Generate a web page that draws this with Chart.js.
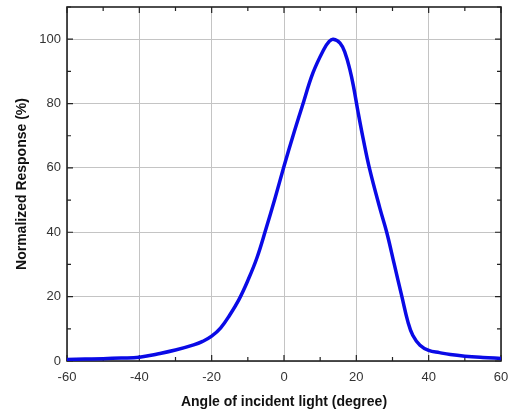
<!DOCTYPE html>
<html lang="en">
<head>
    <meta charset="UTF-8">
    <title>Normalized Response</title>
    <script src="https://cdn.jsdelivr.net/npm/chart.js"></script>
    <style>
        html, body { margin: 0; padding: 0; background: #fff; }
        #wrap { width: 521px; height: 412px; }
    </style>
</head>
<body>
    <div id="wrap">
        <canvas id="grafico"></canvas>
    </div>

<script>
    // values
    var angulos = [-60, -55, -50, -45, -40, -35, -30, -25, -22.5, -20, -17.5, -15, -12.5, -10, -7.5, -5, -2.5,
        0, 2.5, 5, 8, 11, 12.5, 13.6, 15.5, 16.9, 18.2, 19.2, 20.5, 21.9, 23.6, 26.5, 28.4, 30.5, 32.6,
        34.3, 35.6, 37.6, 40, 43, 46, 50, 55, 60];
    var resposta = [0.5, 0.6, 0.7, 0.9, 1.2, 2.2, 3.4, 5.0, 6.1, 7.7, 10.3, 14.3, 19, 25, 32, 41, 50.5,
        60.5, 70, 79, 89.5, 96.8, 99.3, 100, 98.8, 95.7, 90.6, 85.4, 77.2, 69, 60, 47.5, 40, 30, 20,
        12, 8, 4.9, 3.3, 2.6, 2.0, 1.5, 1.1, 0.8];

    var xMin = -60, xMax = 60, xStep = 10;
    var yMin = 0, yMax = 110, yStep = 10;
    var majorEvery = 20;

    var pontos = [];
    for (var i = 0; i < angulos.length; i++) {
        pontos.push({ x: angulos[i], y: resposta[i] });
    }

    function corGrade(ctx) {
        return ctx.tick.value % majorEvery === 0 ? '#c4c4c4' : 'rgba(0,0,0,0)';
    }

    // frame + inward ticks on all four sides
    var moldura = {
        id: 'moldura',
        beforeDatasetsDraw: function (chart) {
            var c = chart.ctx, a = chart.chartArea;
            var sx = chart.scales.x, sy = chart.scales.y;
            c.save();
            c.strokeStyle = '#222';
            c.lineWidth = 1.2;
            c.beginPath();
            for (var v = xMin; v <= xMax; v += xStep) {
                var px = sx.getPixelForValue(v);
                var len = (v % majorEvery === 0) ? 6 : 4;
                c.moveTo(px, a.bottom); c.lineTo(px, a.bottom - len);
                c.moveTo(px, a.top); c.lineTo(px, a.top + len);
            }
            for (var w = yMin; w <= yMax; w += yStep) {
                var py = sy.getPixelForValue(w);
                var len2 = (w % majorEvery === 0) ? 6 : 4;
                c.moveTo(a.left, py); c.lineTo(a.left + len2, py);
                c.moveTo(a.right, py); c.lineTo(a.right - len2, py);
            }
            c.stroke();
            c.lineWidth = 1.6;
            c.strokeRect(a.left, a.top, a.right - a.left, a.bottom - a.top);
            c.restore();
        }
    };

    new Chart(document.getElementById('grafico'), {
        type: 'line',
        data: {
            datasets: [{
                data: pontos,
                borderColor: '#0a0ae6',
                borderWidth: 3.5,
                pointRadius: 0,
                fill: false,
                tension: 0.4
            }]
        },
        options: {
            responsive: true,
            maintainAspectRatio: false,
            animation: false,
            layout: { padding: { left: 0, right: 20, top: 7, bottom: 0 } },
            plugins: {
                legend: { display: false },
                tooltip: { enabled: false }
            },
            scales: {
                x: {
                    type: 'linear',
                    min: xMin,
                    max: xMax,
                    afterFit: function (s) { s.height = 51; },
                    ticks: {
                        stepSize: xStep,
                        autoSkip: false,
                        maxRotation: 0,
                        padding: 9,
                        color: '#333',
                        font: { family: 'Liberation Sans, Arial, sans-serif', size: 13 },
                        callback: function (v) { return v % majorEvery === 0 ? v : ''; }
                    },
                    grid: { color: corGrade, lineWidth: 1, drawTicks: false },
                    border: { display: false },
                    title: {
                        display: true,
                        text: 'Angle of incident light (degree)',
                        color: '#111',
                        font: { family: 'Liberation Sans, Arial, sans-serif', size: 14, weight: 'bold' },
                        padding: { top: 0, bottom: 1 }
                    }
                },
                y: {
                    min: yMin,
                    max: yMax,
                    afterFit: function (s) {
                        s.width = 67;
                        s.paddingTop = 0;
                        s.paddingBottom = 0;
                    },
                    ticks: {
                        stepSize: yStep,
                        autoSkip: false,
                        padding: 6,
                        color: '#333',
                        font: { family: 'Liberation Sans, Arial, sans-serif', size: 13 },
                        callback: function (v) { return v % majorEvery === 0 ? v : ''; }
                    },
                    grid: { color: corGrade, lineWidth: 1, drawTicks: false },
                    border: { display: false },
                    title: {
                        display: true,
                        text: 'Normalized Response (%)',
                        color: '#111',
                        font: { family: 'Liberation Sans, Arial, sans-serif', size: 14, weight: 'bold' },
                        padding: { top: 14, bottom: 0 }
                    }
                }
            }
        },
        plugins: [moldura]
    });
</script>
</body>
</html>
